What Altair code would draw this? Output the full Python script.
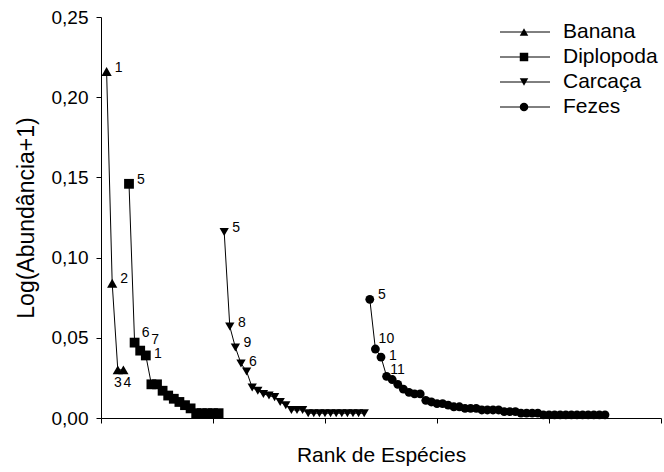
import altair as alt
import pandas as pd

# Series (in drawing order) and their marker shapes
series_names = ["Banana", "Diplopoda", "Carcaça", "Fezes"]
series_shapes = ["triangle-up", "square", "triangle-down", "circle"]
series_sizes = [105, 78, 105, 90]

# First rank of each series on the shared rank axis
series_start = [1, 5, 22, 48]

# Log(abundance + 1) of each species, ordered by rank within the series
banana = [0.216, 0.084, 0.030, 0.030]
diplopoda = [0.146, 0.047, 0.042, 0.039, 0.021, 0.021, 0.017, 0.014, 0.012,
             0.010, 0.008, 0.006, 0.003, 0.003, 0.003, 0.003, 0.003]
carcaca = [0.116, 0.057, 0.044, 0.034, 0.029, 0.019, 0.017, 0.015, 0.014,
           0.013, 0.010, 0.008, 0.005, 0.005, 0.005,
           0.003, 0.003, 0.003, 0.003, 0.003, 0.003, 0.003, 0.003, 0.003,
           0.003, 0.003]
fezes = [0.074, 0.043, 0.038, 0.026, 0.024, 0.021, 0.018, 0.016, 0.015,
         0.015, 0.011, 0.010, 0.009, 0.009, 0.008, 0.007, 0.007, 0.006,
         0.006, 0.006, 0.005, 0.005, 0.005, 0.005, 0.004, 0.004, 0.004,
         0.003, 0.003, 0.003, 0.003,
         0.002, 0.002, 0.002, 0.002, 0.002, 0.002, 0.002, 0.002, 0.002,
         0.002, 0.002, 0.002]

# Species numbers printed beside the dominant species of each series
label_series = ["Banana"] * 4 + ["Diplopoda"] * 4 + ["Carcaça"] * 4 + ["Fezes"] * 4
label_rank = [1, 2, 3, 4, 5, 6, 7, 8, 22, 23, 24, 25, 48, 49, 50, 51]
label_text = ["1", "2", "3", "4", "5", "6", "7", "1",
              "5", "8", "9", "6", "5", "10", "1", "11"]
label_place = ["right", "right", "below_left", "below_right",
               "right", "upper", "upper_wide", "right_low",
               "right", "right", "right", "right_low",
               "right", "upper", "right_low", "upper_low"]

# Text offsets (dx, dy) for each label placement
placements = {
    "right": (12, -4),
    "right_low": (12, -1),
    "upper": (11, -10),
    "upper_low": (11, -6),
    "upper_wide": (15, -11),
    "below_left": (0, 13),
    "below_right": (4, 13),
}

FONT = "Liberation Sans"

rows = []
for name, start, vals in zip(series_names, series_start,
                             [banana, diplopoda, carcaca, fezes]):
    for i, v in enumerate(vals):
        rows.append({"series": name, "rank": start + i, "value": v})
points_df = pd.DataFrame(rows)

labels_df = pd.DataFrame({
    "series": label_series,
    "rank": label_rank,
    "label": label_text,
    "place": label_place,
}).merge(points_df, on=["series", "rank"], how="left")

x_enc = alt.X(
    "rank:Q",
    scale=alt.Scale(domain=[0, 100], nice=False, zero=False),
    axis=alt.Axis(
        values=[0, 20, 40, 60, 80, 100], labels=False, grid=False,
        title="Rank de Espécies", titlePadding=21, titleFontSize=21,
    ),
)
y_enc = alt.Y(
    "value:Q",
    scale=alt.Scale(domain=[0, 0.25], nice=False),
    axis=alt.Axis(
        values=[0, 0.05, 0.10, 0.15, 0.20, 0.25], grid=False,
        labelExpr="replace(format(datum.value, '.2f'), '.', ',')",
        title="Log(Abundância+1)", titlePadding=13, labelPadding=8,
        titleFontSize=23,
    ),
)

shape_enc = alt.Shape(
    "series:N",
    scale=alt.Scale(domain=series_names, range=series_shapes),
    legend=None,
)
size_enc = alt.Size(
    "series:N",
    scale=alt.Scale(domain=series_names, range=series_sizes),
    legend=None,
)

base = alt.Chart(points_df)

lines = base.mark_line(color="black", strokeWidth=1).encode(
    x=x_enc, y=y_enc, detail="series:N", order="rank:Q"
)
markers = base.mark_point(filled=True, color="black", opacity=1).encode(
    x=x_enc, y=y_enc, shape=shape_enc, size=size_enc
)

label_layers = []
for place, (dx, dy) in placements.items():
    label_layers.append(
        alt.Chart(labels_df)
        .transform_filter(alt.datum.place == place)
        .mark_text(font=FONT, fontSize=14, color="black", dx=dx, dy=dy,
                   align="center", baseline="middle")
        .encode(x=x_enc, y=y_enc, text="label:N")
    )

main = alt.layer(lines, markers, *label_layers)

# Legend: line with marker, then series name
legend_df = pd.DataFrame({"series": series_names})
legend_y = alt.Y(
    "series:N", sort=series_names,
    scale=alt.Scale(type="point", range=[15, 90], padding=0),
    axis=None,
)
leg = alt.Chart(legend_df)
leg_rule = leg.mark_rule(color="black", strokeWidth=1).encode(
    x=alt.value(399), x2=alt.value(449), y=legend_y
)
leg_pt = leg.mark_point(filled=True, color="black", opacity=1, size=72).encode(
    x=alt.value(423), y=legend_y, shape=shape_enc
)
leg_text = leg.mark_text(font=FONT, fontSize=21, color="black",
                         align="left", baseline="middle").encode(
    x=alt.value(462), y=legend_y, text="series:N"
)
legend = alt.layer(leg_rule, leg_pt, leg_text)

chart = (
    alt.layer(main, legend)
    .resolve_scale(y="independent")
    .properties(
        width=560, height=401, autosize="none",
        padding={"left": 101, "top": 17, "right": 3, "bottom": 54},
    )
    .configure_view(stroke=None)
    .configure_axis(
        domainColor="black", tickColor="black", tickSize=5,
        labelColor="black", titleColor="black",
        labelFont=FONT, titleFont=FONT,
        labelFontSize=19, titleFontWeight="normal",
    )
)

chart.save("out.html", embed_options={"renderer": "svg", "actions": False})
